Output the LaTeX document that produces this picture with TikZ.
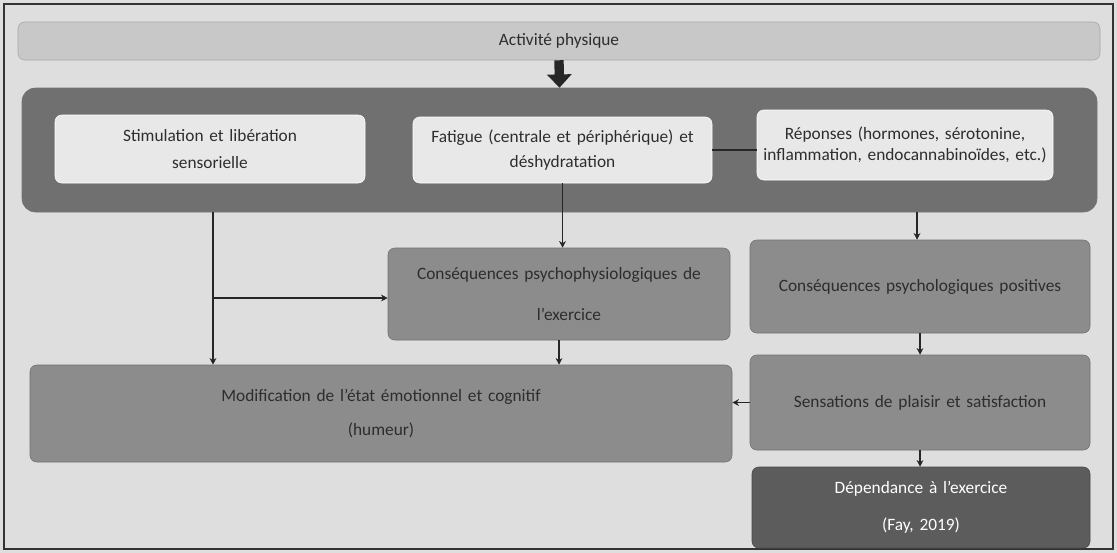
\documentclass[tikz,border=0pt]{standalone}
\usepackage{fontspec}
\setmainfont{Carlito}
\usetikzlibrary{arrows.meta}

\definecolor{fond}{RGB}{222,222,222}
\definecolor{barre}{RGB}{200,200,200}
\definecolor{cadre}{RGB}{112,112,112}
\definecolor{clair}{RGB}{232,232,232}
\definecolor{moyen}{RGB}{140,140,140}
\definecolor{sombre}{RGB}{92,92,92}
\definecolor{texte}{RGB}{45,45,45}

\tikzset{
  boite/.style={rounded corners=5pt, align=center, inner sep=2pt, font=\fontsize{13}{15.6}\selectfont, text=texte},
  clairbox/.style={boite, fill=clair, draw=white},
  moyenbox/.style={boite, fill=moyen, draw=moyen!80!black},
  sombrebox/.style={boite, fill=sombre, draw=sombre!80!black, text=white},
  conn/.style={draw=black!85, line width=0.8pt, -{Stealth[length=5pt,width=5pt]}}
}

\begin{document}
\begin{tikzpicture}[x=0.75pt,y=0.75pt,yscale=-1,xscale=1]
\useasboundingbox (0,0) rectangle (1117,553);

%Shape: background
\fill[fond] (0,0) rectangle (1117,553);
\draw[black!80, line width=1.5pt] (4,4) rectangle (1113,549);

% Text Node (top bar)
\node[boite, fill=barre, draw=black!35, minimum width=811.5pt, minimum height=28.5pt] (top) at (559,41) {Activité physique};

%Shape: container
\node[rounded corners=10pt, fill=cadre, draw=black!55, minimum width=806.25pt, minimum height=93pt] (grp) at (559.5,150) {};

% Text Nodes (first row)
\node[clairbox, text width=217.5pt, minimum width=232.5pt, minimum height=51pt] (A) at (210,149) {Stimulation et libération\\[4pt]sensorielle};
\node[clairbox, text width=213.75pt, minimum width=224.25pt, minimum height=49.5pt] (B) at (562.5,150) {Fatigue (centrale et périphérique) et\\[3pt]déshydratation};
\node[clairbox, text width=213.75pt, minimum width=222pt, minimum height=52.5pt] (C) at (905,145) {Réponses (hormones, sérotonine,\\inflammation, endocannabinoïdes, etc.)};

% Text Nodes (second row)
\node[moyenbox, text width=240pt, minimum width=256.5pt, minimum height=69pt] (D) at (559,294) {Conséquences psychophysiologiques de\\[15pt]\hspace*{15pt}l'exercice};
\node[moyenbox, text width=240pt, minimum width=255pt, minimum height=69.75pt] (E) at (920,286.5) {Conséquences psychologiques positives};

% Text Nodes (third row)
\node[moyenbox, text width=510pt, minimum width=526.5pt, minimum height=72.75pt] (F) at (381,413.5) {Modification de l'état émotionnel et cognitif\\[10pt] (humeur)};
\node[moyenbox, text width=240pt, minimum width=255pt, minimum height=71.25pt] (G) at (920,402.5) {Sensations de plaisir et satisfaction};
\node[sombrebox, text width=240pt, minimum width=253.5pt, minimum height=60.75pt] (H) at (921,507.5) {Dépendance à l'exercice\\[12pt] (Fay, 2019)};

%Arrow: top bar to container
\draw[black!85, line width=7pt, -{Triangle[length=10pt,width=18pt]}] (top.south) -- (grp.north);

%Straight Lines
\draw[black!85, line width=0.8pt] (B.east) -- (B.east -| C.west);
\coordinate (split) at (213,298);
\draw[conn] (213,0 |- grp.south) -- (213,0 |- F.north);
\draw[conn] (split) -- (split -| D.west);
\draw[conn] (B.south) -- (B.south |- D.north);
\draw[conn] (D.south) -- (D.south |- F.north);
\draw[conn] (917,0 |- grp.south) -- (917,0 |- E.north);
\draw[conn] (E.south) -- (G.north);
\draw[conn] (G.west) -- (G.west -| F.east);
\draw[conn] (G.south) -- (G.south |- H.north);

\end{tikzpicture}
\end{document}
